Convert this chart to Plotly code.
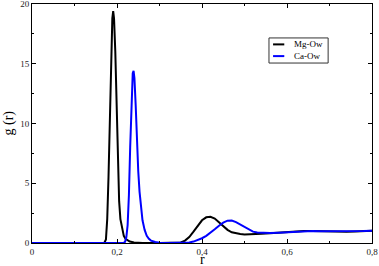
import plotly.graph_objects as go

mg_r = [0.0, 0.170, 0.174, 0.177, 0.180, 0.183, 0.186, 0.189, 0.191, 0.193, 0.196, 0.199, 0.202,
        0.205, 0.208, 0.212, 0.216, 0.220, 0.225, 0.230, 0.240, 0.250, 0.260, 0.300, 0.340,
        0.350, 0.360, 0.370, 0.380, 0.390, 0.400, 0.410, 0.420, 0.430, 0.440, 0.450, 0.460,
        0.470, 0.480, 0.490, 0.500, 0.520, 0.540, 0.560, 0.580, 0.600, 0.620, 0.640, 0.660,
        0.680, 0.700, 0.720, 0.740, 0.760, 0.780, 0.800]
mg_g = [0.0, 0.0, 0.3, 2.0, 5.5, 10.5, 15.5, 18.8, 19.4, 18.8, 16.0, 11.0, 6.5,
        3.5, 2.0, 1.1, 0.6, 0.35, 0.2, 0.12, 0.05, 0.02, 0.0, 0.0, 0.0,
        0.05, 0.2, 0.5, 0.95, 1.45, 1.9, 2.15, 2.2, 2.05, 1.75, 1.4, 1.1,
        0.9, 0.8, 0.75, 0.72, 0.72, 0.78, 0.82, 0.88, 0.93, 0.97, 1.0, 1.0,
        0.98, 0.95, 0.93, 0.94, 0.97, 1.0, 1.02]

ca_r = [0.0, 0.215, 0.219, 0.222, 0.225, 0.228, 0.231, 0.234, 0.237, 0.239, 0.241, 0.244,
        0.247, 0.250, 0.253, 0.256, 0.260, 0.265, 0.270, 0.275, 0.280, 0.290, 0.300, 0.320,
        0.360, 0.370, 0.380, 0.390, 0.400, 0.410, 0.420, 0.430, 0.440, 0.450, 0.460, 0.470,
        0.480, 0.490, 0.500, 0.510, 0.520, 0.530, 0.540, 0.560, 0.580, 0.600, 0.620, 0.640,
        0.660, 0.680, 0.700, 0.720, 0.740, 0.760, 0.780, 0.800]
ca_g = [0.0, 0.0, 0.1, 0.5, 1.5, 4.0, 8.0, 12.0, 14.2, 14.4, 13.8, 11.5,
        8.5, 6.0, 4.3, 3.0, 1.9, 1.1, 0.6, 0.35, 0.2, 0.08, 0.03, 0.0,
        0.0, 0.05, 0.12, 0.25, 0.4, 0.6, 0.85, 1.15, 1.45, 1.7, 1.87, 1.88,
        1.75, 1.55, 1.3, 1.1, 0.95, 0.88, 0.85, 0.83, 0.86, 0.9, 0.95, 0.98,
        1.0, 0.99, 0.98, 0.97, 0.97, 0.98, 1.0, 1.02]

series_names = ["Mg-Ow", "Ca-Ow"]
series_colors = ["black", "#0000ff"]

x_ticks = [0, 0.2, 0.4, 0.6, 0.8]
x_labels = ["0", "0,2", "0,4", "0,6", "0,8"]
y_ticks = [0, 5, 10, 15, 20]

font = "Liberation Serif"

fig = go.Figure()
for rr, gg, nm, col in zip([mg_r, ca_r], [mg_g, ca_g], series_names, series_colors):
    fig.add_trace(go.Scatter(x=rr, y=gg, mode="lines", name=nm, showlegend=False,
                             line=dict(color=col, width=2)))

axis_common = dict(showline=True, linecolor="black", linewidth=1, mirror="allticks",
                   ticks="inside", ticklen=4, tickcolor="black", showgrid=False,
                   zeroline=False, automargin=False, ticklabeloverflow="allow",
                   tickfont=dict(family=font, size=9, color="#222"))

fig.update_xaxes(range=[0, 0.8], tickvals=x_ticks, ticktext=x_labels, ticklabelstandoff=0,
                 minor=dict(ticks="inside", ticklen=2, dtick=0.1, tickcolor="black"),
                 **axis_common)
fig.update_yaxes(range=[0, 20], tickvals=y_ticks, ticklabelstandoff=0,
                 minor=dict(ticks="inside", ticklen=2, dtick=2.5, tickcolor="black"),
                 **axis_common)

# axis titles
fig.add_annotation(text="r", xref="paper", yref="paper", x=0.5, y=0, yshift=-16,
                   xanchor="center", yanchor="middle", borderpad=0,
                   showarrow=False, font=dict(family=font, size=14, color="black"))
fig.add_annotation(text="g (r)", xref="paper", yref="paper", x=0, y=0.5, xshift=-24,
                   xanchor="center", yanchor="middle",
                   textangle=-90, showarrow=False,
                   font=dict(family=font, size=14, color="black"))

# legend box
lx0, lx1, ly0, ly1 = 0.697, 0.871, 0.753, 0.858
fig.add_shape(type="rect", xref="paper", yref="paper", x0=lx0, x1=lx1, y0=ly0, y1=ly1,
              line=dict(color="#333", width=1), fillcolor="white", layer="above")
rows = [0.831, 0.782]
for nm, col, yy in zip(series_names, series_colors, rows):
    fig.add_shape(type="line", xref="paper", yref="paper", x0=lx0 + 0.012, x1=lx0 + 0.045,
                  y0=yy, y1=yy, line=dict(color=col, width=2), layer="above")
    fig.add_annotation(text=nm, xref="paper", yref="paper", x=lx0 + 0.068, y=yy,
                       xanchor="left", yanchor="middle", showarrow=False,
                       font=dict(family=font, size=9, color="black"))

fig.update_layout(width=379, height=266, margin=dict(l=32, r=7, t=4, b=23),
                  plot_bgcolor="white", paper_bgcolor="white", showlegend=False)
fig.write_html("out.html", config={"displayModeBar": False},
               post_script="document.body.style.margin='0';document.body.style.padding='0';")
